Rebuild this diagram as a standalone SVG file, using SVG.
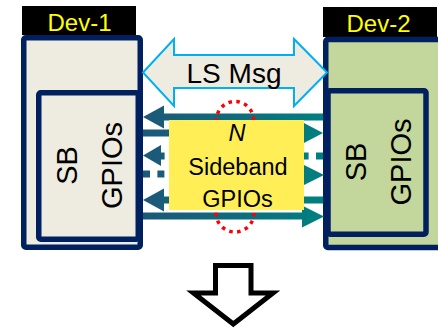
<svg xmlns="http://www.w3.org/2000/svg" width="438" height="328" viewBox="0 0 438 328">
<defs>
<style>
.box{stroke:#002060;stroke-width:5.5}
.d1{fill:#EEECE1}
.d2{fill:#C3D69B}
.lbl{fill:#000}
.lt{font-family:"Liberation Sans",Arial,sans-serif;font-size:24px;fill:#FFFF00;text-anchor:middle}
.big{font-family:"Liberation Sans",Arial,sans-serif;font-size:28px;fill:#000;text-anchor:middle}
.rot{font-size:29px}
.yt{font-family:"Liberation Sans",Arial,sans-serif;font-size:23.5px;fill:#000;text-anchor:middle}
.sh{stroke:url(#tg);stroke-width:7;fill:none}
.dsh{stroke-dasharray:7 7.4}
.hd{fill:url(#tg)}
.ring{fill:none;stroke:#FF0000;stroke-width:3.5;stroke-dasharray:3.5 4.5}
</style>
<linearGradient id="tg" gradientUnits="userSpaceOnUse" x1="143" y1="0" x2="323" y2="0">
<stop offset="0" stop-color="#1C5878"/>
<stop offset="1" stop-color="#008080"/>
</linearGradient>
</defs>

<g id="dev1">
<rect class="lbl" x="22" y="6" width="114" height="29"/>
<text class="lt" x="79.5" y="31">Dev-1</text>
<rect class="box d1" x="23.75" y="37.75" width="116.5" height="209.5" rx="2"/>
<rect class="box d1" x="38.75" y="92.75" width="99.5" height="146.5" rx="2"/>
<text class="big rot" transform="translate(77,165.5) rotate(-90)">SB</text>
<text class="big rot" transform="translate(122,165.5) rotate(-90)">GPIOs</text>
</g>

<g id="dev2">
<rect class="lbl" x="323" y="7" width="114" height="30"/>
<text class="lt" x="378.5" y="31.5">Dev-2</text>
<rect class="box d2" x="325.75" y="39.5" width="130" height="208" rx="2"/>
<rect class="box d2" x="328" y="90.75" width="98" height="143.5" rx="2"/>
<text class="big rot" transform="translate(366,162) rotate(-90)">SB</text>
<text class="big rot" transform="translate(411,162) rotate(-90)">GPIOs</text>
</g>

<g id="ls-msg">
<polygon points="143,72.5 174,39 174,55 294,55 294,39 327,72.5 294,106 294,88 174,88 174,106" fill="#EEECE1" stroke="#00B0F0" stroke-width="2"/>
<text class="big" x="234" y="83">LS Msg</text>
</g>

<g id="connectors">
<line class="sh" x1="163" y1="117" x2="323" y2="117"/>
<polygon class="hd" points="143,117 164,105.5 164,128.5"/>
<line class="sh" x1="143" y1="133" x2="304" y2="133"/>
<polygon class="hd" points="323,133 302,122 302,144"/>
<line class="sh dsh" x1="323" y1="156" x2="158" y2="156"/>
<polygon class="hd" points="143,155.5 161,145 161,166"/>
<line class="sh dsh" x1="143" y1="174" x2="304" y2="174"/>
<polygon class="hd" points="324,175 303,164.5 303,185.5"/>
<line class="sh" x1="163" y1="200" x2="323" y2="200"/>
<polygon class="hd" points="143,200 164,188.5 164,211.5"/>
<line class="sh" x1="143" y1="216" x2="304" y2="216"/>
<polygon class="hd" points="324,216.5 302,205.5 302,227.5"/>
</g>

<g id="highlights">
<circle class="ring" cx="235" cy="120" r="18.5"/>
<circle class="ring" cx="235" cy="213" r="19"/>
</g>

<g id="sideband">
<rect x="169" y="120" width="135" height="90" fill="#FFEE55"/>
<text class="yt" x="237" y="141" font-style="italic">N</text>
<text class="yt" x="238" y="175">Sideband</text>
<text class="yt" x="237.5" y="207">GPIOs</text>
</g>

<g id="down-arrow">
<polygon points="215.5,265.5 251,265.5 251,293 273,293 233.3,324 193.5,293 215.5,293" fill="#FFFFFF" stroke="#000" stroke-width="5"/>
</g>
</svg>
